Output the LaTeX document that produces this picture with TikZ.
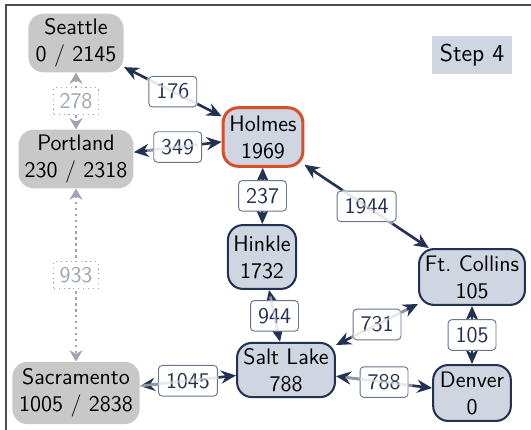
\documentclass[tikz,border=0pt]{standalone}
\usepackage{tikz}
\usetikzlibrary{arrows.meta, calc}
\definecolor{navy}{RGB}{35,50,82}
\definecolor{cityGray}{RGB}{200,200,200}
\definecolor{cityBlue}{RGB}{208,214,225}
\definecolor{visitRed}{RGB}{214,78,42}
\definecolor{costLine}{RGB}{105,118,142}
\definecolor{trailGray}{RGB}{158,164,176}

\begin{document}
\begin{tikzpicture}[x=0.0188cm, y=-0.0188cm, font=\sffamily\fontsize{12}{14.4}\selectfont,
		city/.style={rounded corners=8pt, align=center, minimum height=1.1cm, inner sep=2pt},
		gone/.style={city, fill=cityGray},
		open/.style={city, fill=cityBlue, draw=navy, line width=1.1pt},
		road/.style={navy, line width=1.4pt, {Stealth[length=8pt, width=7pt]}-{Stealth[length=8pt, width=7pt]}},
		trail/.style={trailGray, line width=1.2pt, dotted, {Stealth[length=6pt, width=7pt]}-{Stealth[length=6pt, width=7pt]}},
		cost/.style={fill=white, draw=costLine, line width=.5pt, rounded corners=2pt, text=navy, inner sep=4pt, solid},
		faded/.style={fill=white, draw=trailGray, line width=.6pt, dotted, text=trailGray, inner sep=3pt},
		glow/.style={gray!30, line width=1.4pt, opacity=.6}]
		\useasboundingbox(0, 0) rectangle (531, 430);
		\draw[gray!60!black, line width=.8pt](6, 430)--(6, 5)--(531, 5);
		% cities
		\node[gone, minimum width=1.79cm](sea) at(76, 43){Seattle\\0 / 2145};
		\node[gone, minimum width=2.16cm](por) at(76, 159){Portland\\230 / 2318};
		\node[gone, minimum width=2.39cm, minimum height=1.17cm](sac) at(76, 393){Sacramento\\1005 / 2838};
		\node[open, draw=visitRed, line width=1.6pt, minimum width=1.5cm](hol) at(263, 137){Holmes\\1969};
		\node[open, minimum width=1.28cm, minimum height=1.2cm](hin) at(262, 257){Hinkle\\1732};
		\node[open, minimum width=1.84cm, minimum height=1.02cm](slc) at(286, 370){Salt Lake\\788};
		\node[open, minimum width=1.99cm, minimum height=1.05cm](ftc) at(472, 277){Ft.\ Collins\\105};
		\node[open, minimum width=1.46cm, minimum height=1.05cm](den) at(472, 393){Denver\\0};
		\node[fill=cityBlue, minimum width=1.49cm, minimum height=.7cm, font=\sffamily\fontsize{13}{15}\selectfont](step) at(472, 55){Step 4};
		% dropped roads
		\draw[trail](sea)--node[faded]{278}(por);
		\draw[trail](por)--node[faded]{933}(sac);
		% roads
		\draw[road](sea)--node[cost]{176}(hol);
		\draw[road](por)--node[cost]{349}(hol);
		\draw[road](hol)--node[cost]{237}(hin);
		\draw[road](hol)--node[cost]{1944}(ftc);
		\draw[road](hin)--node[cost]{944}(slc);
		\draw[road](slc)--node[cost]{731}(ftc);
		\draw[road](ftc)--node[cost]{105}(den);
		\draw[road](sac)--node[cost]{1045}(slc);
		\draw[road](slc)--node[cost]{788}(den);
		% fading trace over the roads
		\draw[glow]($(sea)!.38!(hol)$)--($(sea)!.65!(hol)$);
		\draw[glow]($(por)!.38!(hol)$)--($(por)!.65!(hol)$);
		\draw[glow]($(hol)!.38!(ftc)$)--($(hol)!.62!(ftc)$);
		\draw[glow]($(hin)!.35!(slc)$)--($(hin)!.65!(slc)$);
		\draw[glow]($(slc)!.35!(ftc)$)--($(slc)!.65!(ftc)$);
		\draw[glow]($(sac)!.3!(slc)$)--($(sac)!.68!(slc)$);
		\draw[glow]($(slc)!.32!(den)$)--($(slc)!.68!(den)$);
	\end{tikzpicture}
\end{document}
